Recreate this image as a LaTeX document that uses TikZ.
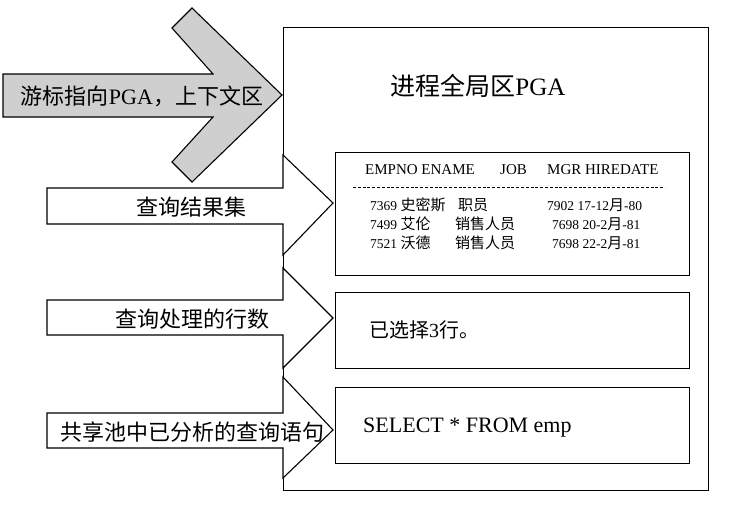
\documentclass[tikz,border=0pt]{standalone}
\usepackage{fontspec}
\setmainfont{Liberation Serif}
\newfontfamily\cjk{Noto Sans CJK SC}
\newcommand{\fs}[1]{\fontsize{#1}{#1}\selectfont}
\begin{document}
\begin{tikzpicture}[x=1pt,y=-1pt,
  outline/.style={draw=black, line width=1.1pt, line join=miter},
  box/.style={draw=black, line width=1.1pt, fill=white, inner sep=0pt, anchor=north west},
  lbl/.style={inner sep=0pt},
  cell/.style={inner sep=0pt, anchor=base west},
  grayarrow/.style={outline, fill=gray!38},
  whitearrow/.style={outline, fill=white}]
\useasboundingbox (0,0) rectangle (736,515);

% PGA region
\node[box, minimum width=425pt, minimum height=463pt] (pga) at (283,27) {};
\node[lbl, font=\fs{25}] (pgatitle) at (478,86) {{\cjk 进程全局区}PGA};

% gray arrow
\draw[grayarrow] (3,74) -- (213,74) -- (172,28) -- (192,8) -- (282,95)
  -- (192,182) -- (172,162) -- (213,117) -- (3,117) -- cycle;
\node[lbl, font=\fs{22}] (cursor) at (142,96) {{\cjk 游标指向}PGA{\cjk ，上下文区}};

% white arrows
\draw[whitearrow] (47,188) -- (283,188) -- (283,155) -- (333,203)
  -- (283,255) -- (283,224) -- (47,224) -- cycle;
\node[lbl, font=\fs{22}\cjk] (resset) at (191,207) {查询结果集};

\draw[whitearrow] (47,300) -- (283,300) -- (283,268) -- (333,318)
  -- (283,368) -- (283,335) -- (47,335) -- cycle;
\node[lbl, font=\fs{22}\cjk] (rowcnt) at (192,319) {查询处理的行数};

\draw[whitearrow] (47,413) -- (283,413) -- (283,377) -- (333,430)
  -- (283,478) -- (283,448) -- (47,448) -- cycle;
\node[lbl, font=\fs{22}\cjk] (parsed) at (192,432) {共享池中已分析的查询语句};

% inner boxes
\node[box, minimum width=354pt, minimum height=123pt] (tbl) at (335,152) {};
\node[box, minimum width=354pt, minimum height=76pt] (cnt) at (335,292) {};
\node[box, minimum width=354pt, minimum height=76pt] (sql) at (335,387) {};

% table content
\node[cell, font=\fs{15}] (h1) at (365,174) {EMPNO ENAME};
\node[cell, font=\fs{15}] (h2) at (500,174) {JOB};
\node[cell, font=\fs{15}] (h3) at (547,174) {MGR HIREDATE};
\coordinate (dl) at (353,187);
\coordinate (dr) at (665,187);
\draw[line width=0.8pt, dash pattern=on 3pt off 1.8pt] (dl) -- (dr);

\node[cell, font=\fs{13.5}] (r1a) at (370,210) {7369 {\cjk\fs{15}史密斯}};
\node[cell, font=\fs{15}\cjk] (r1b) at (458,210) {职员};
\node[cell, font=\fs{13.5}] (r1c) at (547,210) {7902 17-12{\cjk\fs{15}月}-80};

\node[cell, font=\fs{13.5}] (r2a) at (370,229) {7499 {\cjk\fs{15}艾伦}};
\node[cell, font=\fs{15}\cjk] (r2b) at (455,229) {销售人员};
\node[cell, font=\fs{13.5}] (r2c) at (552,229) {7698 20-2{\cjk\fs{15}月}-81};

\node[cell, font=\fs{13.5}] (r3a) at (370,248) {7521 {\cjk\fs{15}沃德}};
\node[cell, font=\fs{15}\cjk] (r3b) at (455,248) {销售人员};
\node[cell, font=\fs{13.5}] (r3c) at (552,248) {7698 22-2{\cjk\fs{15}月}-81};

% other boxes content
\node[cell, font=\fs{20}] (sel3) at (369,337) {{\cjk 已选择}3{\cjk 行。}};
\node[cell, font=\fs{22}] (sqltxt) at (363,432) {SELECT * FROM emp};
\end{tikzpicture}
\end{document}
